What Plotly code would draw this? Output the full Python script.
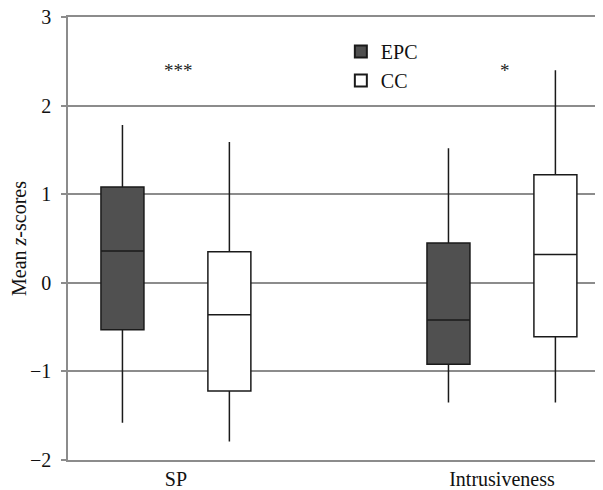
import plotly.graph_objects as go

categories = ["SP", "Intrusiveness"]
groups = ["EPC", "CC"]
# box statistics per group, ordered as categories
epc_lower = [-1.58, -1.35]
epc_q1 = [-0.53, -0.92]
epc_median = [0.36, -0.42]
epc_q3 = [1.08, 0.45]
epc_upper = [1.78, 1.52]

cc_lower = [-1.79, -1.35]
cc_q1 = [-1.22, -0.61]
cc_median = [-0.36, 0.32]
cc_q3 = [0.35, 1.22]
cc_upper = [1.59, 2.40]

significance = ["***", "*"]
sig_y = [2.40, 2.40]

y_ticks = [-2, -1, 0, 1, 2, 3]

FONT = "Liberation Serif, Times New Roman, serif"
GRID = "#8c8c8c"
FS = 20

fig = go.Figure()
fig.add_trace(go.Box(
    name="EPC", x=categories, q1=epc_q1, median=epc_median, q3=epc_q3,
    lowerfence=epc_lower, upperfence=epc_upper,
    fillcolor="#505050", line=dict(color="#1a1a1a", width=1.5),
    whiskerwidth=0, boxpoints=False,
))
fig.add_trace(go.Box(
    name="CC", x=categories, q1=cc_q1, median=cc_median, q3=cc_q3,
    lowerfence=cc_lower, upperfence=cc_upper,
    fillcolor="white", line=dict(color="#1a1a1a", width=1.5),
    whiskerwidth=0, boxpoints=False,
))

for c, s, yv in zip(categories, significance, sig_y):
    fig.add_annotation(x=c, y=yv, text=s, showarrow=False, xshift=3,
                       font=dict(family=FONT, size=19, color="#222"))

fig.update_layout(
    width=603, height=490,
    margin=dict(l=60, r=8, t=9, b=38),
    paper_bgcolor="white", plot_bgcolor="white",
    boxmode="group", boxgap=0.344, boxgroupgap=0.598,
    font=dict(family=FONT, size=FS, color="#111"),
    legend=dict(x=0.51, y=0.966, xanchor="left", yanchor="top",
                bgcolor="rgba(0,0,0,0)", font=dict(family=FONT, size=FS),
                itemsizing="constant"),
    showlegend=True,
)
fig.update_xaxes(
    type="category", range=[-0.331, 1.31], automargin=False,
    showgrid=False, showline=True, mirror=True, linecolor=GRID, linewidth=1.5,
    ticks="", tickfont=dict(family=FONT, size=FS), ticklabelstandoff=0,
)
fig.update_yaxes(
    range=[-2, 3], tickvals=y_ticks, showgrid=True, gridcolor=GRID, gridwidth=1.5,
    zeroline=False, showline=True, linecolor=GRID, linewidth=1.5, automargin=False,
    ticks="outside", ticklen=5, tickcolor=GRID, tickwidth=1.5, ticklabelstandoff=6,
    ticklabeloverflow="allow",
    tickfont=dict(family=FONT, size=FS),
    title=dict(text="Mean <i>z</i>-scores", font=dict(family=FONT, size=FS), standoff=2),
)

fig.write_html("out.html")
